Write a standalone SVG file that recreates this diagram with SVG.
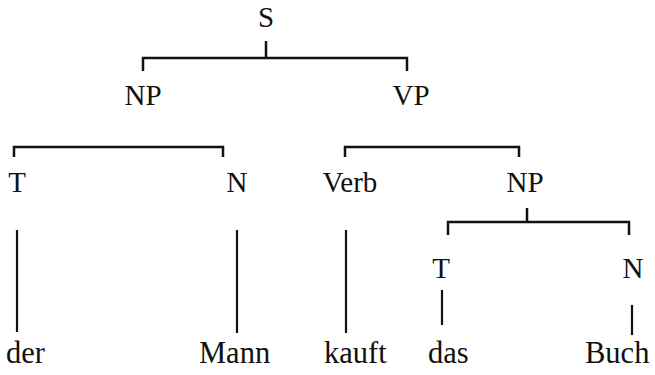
<svg xmlns="http://www.w3.org/2000/svg" width="655" height="375" viewBox="0 0 655 375">
  <style>
    .lbl { font-family: "Liberation Serif", "Times New Roman", serif; font-size: 29px; fill: #111; text-anchor: middle; }
    .word { font-family: "Liberation Serif", "Times New Roman", serif; font-size: 30.5px; fill: #111; text-anchor: start; }
    .br { fill: none; stroke: #111; stroke-width: 2.5; stroke-linecap: butt; }
    .ln { fill: none; stroke: #111; stroke-width: 2.2; }
  </style>
  <rect width="655" height="375" fill="#fff"/>

  <!-- category labels -->
  <g id="S"><text class="lbl" x="266" y="27">S</text></g>
  <g id="NP1"><text class="lbl" x="143" y="105">NP</text></g>
  <g id="VP"><text class="lbl" x="411" y="105">VP</text></g>
  <g id="T1"><text class="lbl" x="17" y="192">T</text></g>
  <g id="N1"><text class="lbl" x="237" y="192">N</text></g>
  <g id="Verb"><text class="lbl" x="350" y="192">Verb</text></g>
  <g id="NP2"><text class="lbl" x="525" y="192">NP</text></g>
  <g id="T2"><text class="lbl" x="441" y="278">T</text></g>
  <g id="N2"><text class="lbl" x="633" y="278">N</text></g>

  <!-- terminal words -->
  <g id="der"><text class="word" x="6" y="363">der</text></g>
  <g id="Mann"><text class="word" x="199" y="363">Mann</text></g>
  <g id="kauft"><text class="word" x="324" y="363">kauft</text></g>
  <g id="das"><text class="word" x="428" y="363">das</text></g>
  <g id="Buch"><text class="word" x="585" y="363">Buch</text></g>

  <!-- branches -->
  <g id="connectors">
    <path class="br" d="M266 41 V58 M143 71 V58 H407 V71"/>
    <path class="br" d="M14 157 V147 H223 V157"/>
    <path class="br" d="M345 157 V147 H519 V157"/>
    <path class="br" d="M527 208 V222 M448 235 V222 H629 V235"/>
    <path class="ln" d="M17 230 V332"/>
    <path class="ln" d="M237 230 V333"/>
    <path class="ln" d="M346 230 V333"/>
    <path class="ln" d="M442 290 V325"/>
    <path class="ln" d="M632 305 V335"/>
  </g>
</svg>
